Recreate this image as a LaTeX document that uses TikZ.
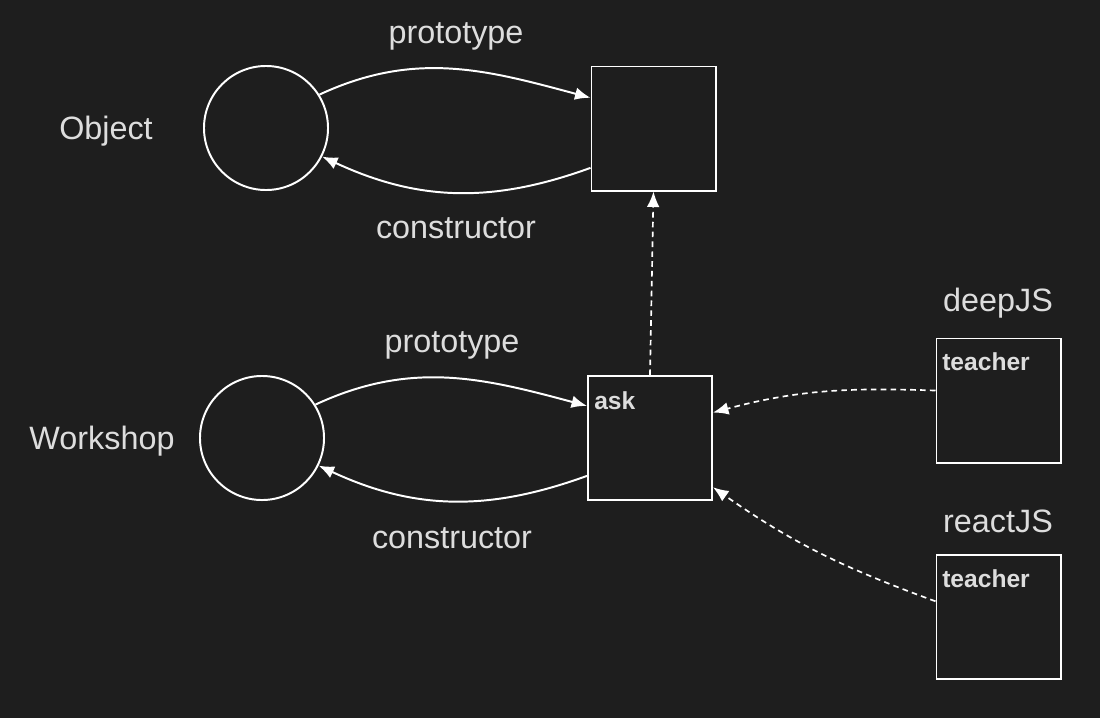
\documentclass[tikz,border=0pt]{standalone}
\usepackage{fontspec}
\setmainfont{Liberation Sans}
\usetikzlibrary{arrows.meta}
\definecolor{bg}{HTML}{1E1E1E}
\definecolor{ink}{HTML}{DDDDDD}
\begin{document}
\begin{tikzpicture}[x=0.025cm, y=0.025cm,
  obj/.style={draw=white, line width=1.4pt, circle, minimum size=3.1cm},
  box/.style={draw=white, line width=1.4pt, rectangle, minimum size=3.1cm},
  txt/.style={text=ink, font=\fontsize{23}{27}\selectfont},
  field/.style={text=ink, anchor=west, inner sep=0pt, font=\fontsize{17.5}{20}\selectfont\bfseries},
  link/.style={white, line width=1.4pt, -{Latex[length=11pt, width=9pt]}},
  dlink/.style={link, line width=1.2pt, dash pattern=on 4pt off 3pt}]
\useasboundingbox [fill=bg] (0,0) rectangle (1100,-718);

\node (objc) [obj] at (266,-128) {};
\node (objp) [box] at (653.5,-128.5) {};
\node (wsc) [obj] at (262,-438) {};
\node (ask) [box] at (650,-438) {};
\node (deep) [box] at (998.5,-400.5) {};
\node (react) [box] at (998.5,-617) {};

\node (objname) [txt] at (106,-131) {Object};
\node (wsname) [txt] at (102,-441) {Workshop};
\node (objproto) [txt] at (456,-36) {prototype};
\node (objctor) [txt] at (456,-228) {constructor};
\node (wsproto) [txt] at (452,-345) {prototype};
\node (wsctor) [txt] at (452,-538) {constructor};
\node (deepname) [txt] at (998,-303) {deepJS};
\node (reactname) [txt] at (998,-521) {reactJS};

\node (askf) [field] at (594,-401) {ask};
\node (deepf) [field] at (942,-362) {teacher};
\node (reactf) [field] at (942,-579) {teacher};

\draw [link] (objc.32) to[out=25, in=165] (objp.154);
\draw [link] (objp.212) to[out=200, in=-25] (objc.-27);
\draw [link] (wsc.32) to[out=25, in=165] (ask.153);
\draw [link] (ask.211) to[out=200, in=-25] (wsc.-26);
\draw [dlink] (ask.north) -- (objp.south);
\draw [dlink] (deep.171) to[out=178, in=15] (ask.22);
\draw [dlink] (react.166) to[out=160, in=-35] (ask.-38);
\end{tikzpicture}
\end{document}
